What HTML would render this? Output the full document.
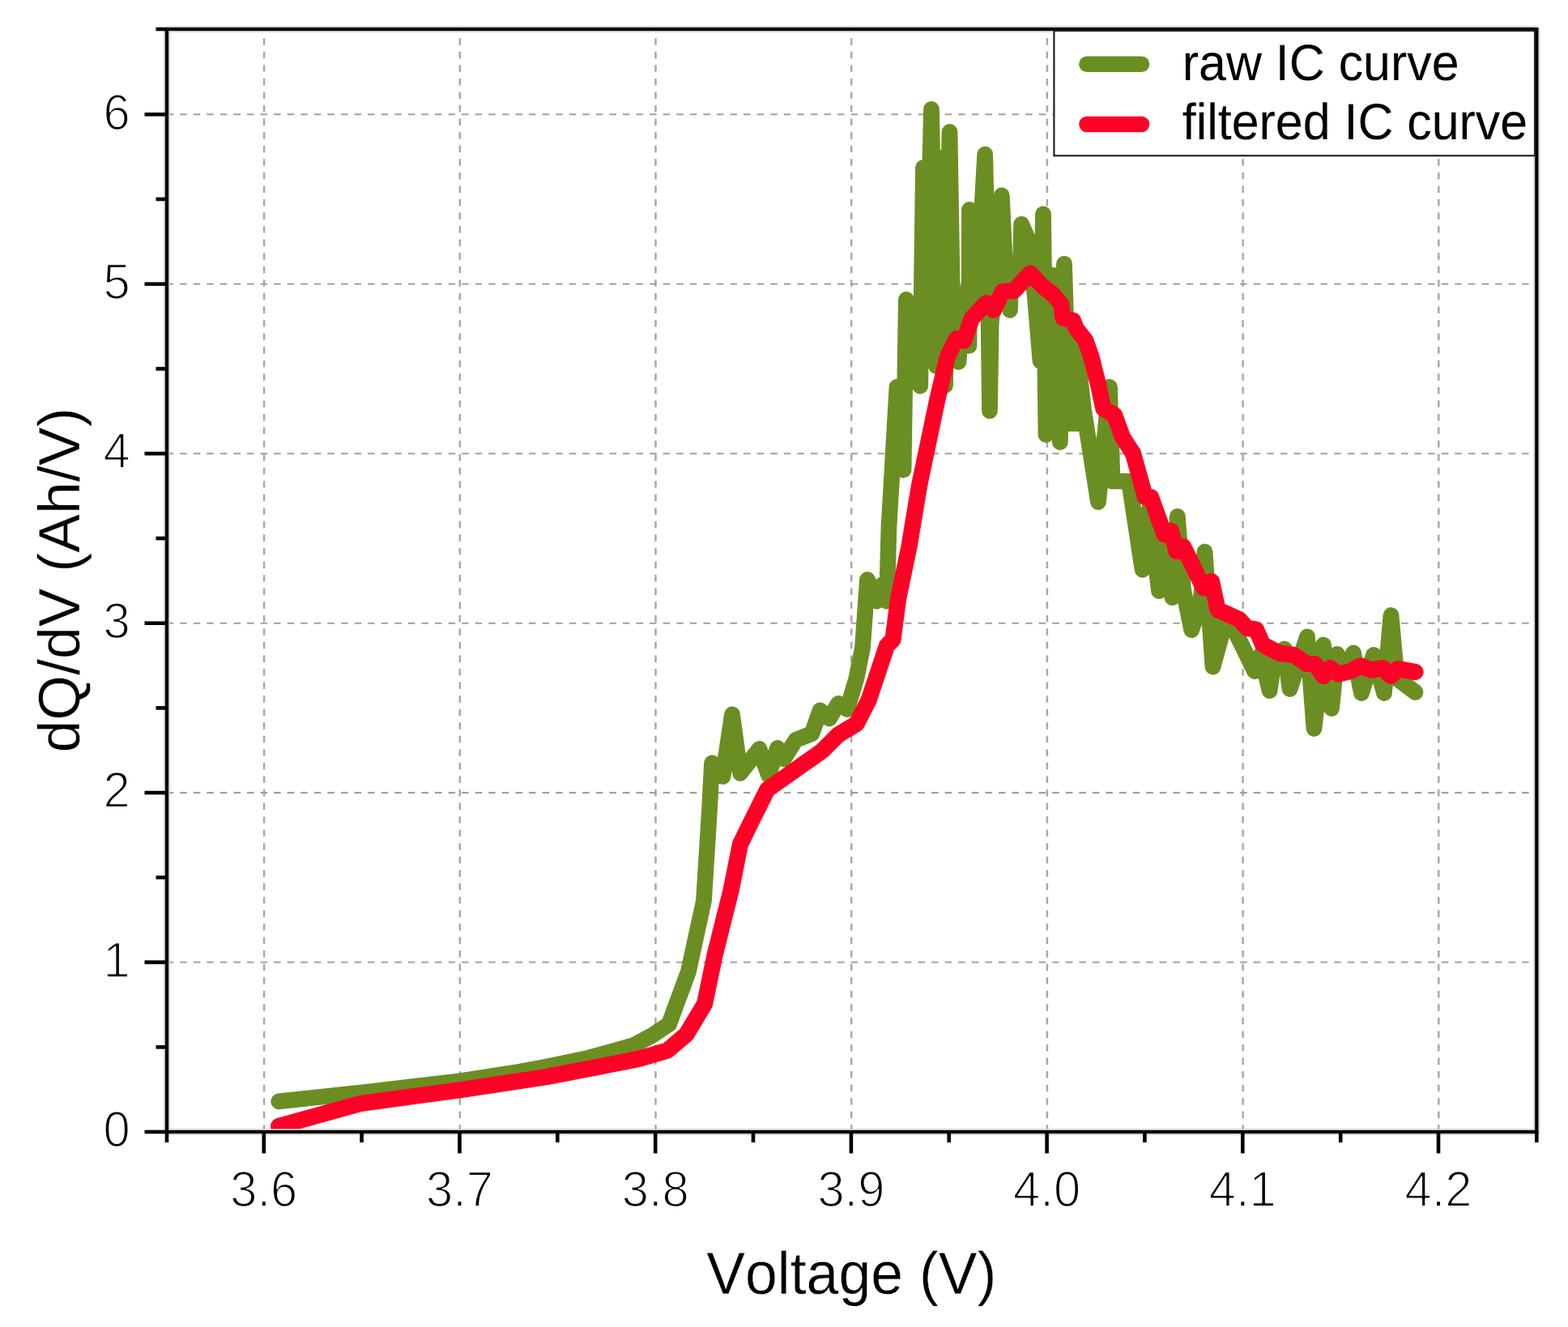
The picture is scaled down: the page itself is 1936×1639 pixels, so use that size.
<!DOCTYPE html>
<html lang="en">
<head>
<meta charset="utf-8">
<title>IC curve</title>
<style>
html,body{margin:0;padding:0;background:#fff;}
body{width:1936px;height:1639px;overflow:hidden;position:relative;}
svg{position:absolute;left:0;top:0;display:block;}
text{font-family:"Liberation Sans",Arial,Helvetica,sans-serif;fill:#000;font-kerning:none;text-rendering:geometricPrecision;}
.tick{font-size:59.7px;stroke:#fff;stroke-width:1.7px;stroke-linejoin:round;paint-order:fill stroke;}
.title{font-size:71.6px;stroke:#fff;stroke-width:0.4px;stroke-linejoin:round;paint-order:fill stroke;}
.leg{font-size:60.9px;}
.grid line{stroke:#a0a0a0;stroke-width:2.1;stroke-dasharray:8.5 8.07;}
.grid line.v{stroke:#a8a8a8;stroke-width:2.5;}
.ax line{stroke:#000;stroke-width:4.6;}
.ax line.f{stroke-width:4.1;}
.axu line{stroke:#cacaca;stroke-width:7.6;}
</style>
</head>
<body>
<svg width="1936" height="1639" viewBox="0 0 1936 1639">
<rect x="0" y="0" width="1936" height="1639" fill="#ffffff"/>

<g class="grid">
<line class="v" x1="326.1" y1="36.0" x2="326.1" y2="1398.0" stroke-dashoffset="-11.2"/>
<line class="v" x1="567.8" y1="36.0" x2="567.8" y2="1398.0" stroke-dashoffset="-11.2"/>
<line class="v" x1="809.5" y1="36.0" x2="809.5" y2="1398.0" stroke-dashoffset="-11.2"/>
<line class="v" x1="1051.2" y1="36.0" x2="1051.2" y2="1398.0" stroke-dashoffset="-11.2"/>
<line class="v" x1="1292.9" y1="36.0" x2="1292.9" y2="1398.0" stroke-dashoffset="-11.2"/>
<line class="v" x1="1534.6" y1="36.0" x2="1534.6" y2="1398.0" stroke-dashoffset="-11.2"/>
<line class="v" x1="1776.3" y1="36.0" x2="1776.3" y2="1398.0" stroke-dashoffset="-11.2"/>
<line x1="206.0" y1="1188.5" x2="1897.3" y2="1188.5" stroke-dashoffset="0.4"/>
<line x1="206.0" y1="979.1" x2="1897.3" y2="979.1" stroke-dashoffset="0.4"/>
<line x1="206.0" y1="769.7" x2="1897.3" y2="769.7" stroke-dashoffset="0.4"/>
<line x1="206.0" y1="560.2" x2="1897.3" y2="560.2" stroke-dashoffset="0.4"/>
<line x1="206.0" y1="350.8" x2="1897.3" y2="350.8" stroke-dashoffset="0.4"/>
<line x1="206.0" y1="141.3" x2="1897.3" y2="141.3" stroke-dashoffset="0.4"/>
</g>
<clipPath id="plotclip"><rect x="206.0" y="36.0" width="1691.3" height="1362.0"/></clipPath>
<g clip-path="url(#plotclip)">
<polyline points="344.2,1360.4 450.0,1349.0 567.5,1335.3 640.0,1324.0 675.0,1317.5 722.0,1307.8 745.0,1301.5 782.5,1291.0 805.0,1279.0 826.0,1265.0 850.0,1200.0 869.0,1112.5 876.0,1000.0 879.0,942.5 892.5,959.0 904.0,882.5 914.0,955.0 937.5,925.0 949.0,957.5 960.0,924.0 967.5,937.5 982.5,914.0 1002.5,906.0 1012.5,877.5 1024.0,887.5 1035.0,869.0 1046.0,876.0 1057.5,837.5 1065.0,800.0 1071.0,716.0 1082.5,742.5 1089.0,722.5 1095.0,742.5 1097.5,650.0 1100.5,600.0 1107.5,478.0 1115.5,580.5 1118.9,370.0 1136.2,476.8 1140.0,207.0 1146.0,300.0 1150.0,135.0 1156.0,452.0 1161.0,195.0 1167.0,476.0 1172.5,163.0 1177.0,440.0 1180.0,362.0 1183.5,447.0 1190.0,362.0 1196.5,427.0 1197.0,259.0 1203.0,380.0 1210.0,300.0 1216.2,190.7 1220.7,400.0 1222.0,507.4 1223.6,400.0 1230.0,330.0 1236.8,241.4 1241.0,330.0 1247.0,383.0 1248.5,340.0 1259.5,345.0 1261.2,277.0 1270.0,297.0 1278.0,368.0 1284.5,446.0 1288.0,264.5 1291.5,536.8 1300.0,340.0 1308.8,546.0 1314.0,325.8 1320.0,523.0 1334.0,523.0 1336.0,500.0 1328.0,420.0 1338.0,506.0 1356.0,620.0 1370.0,478.0 1373.5,594.4 1394.0,594.4 1410.6,703.6 1419.0,628.0 1431.0,730.0 1441.0,672.0 1447.5,738.0 1453.8,637.8 1461.0,728.0 1471.2,778.0 1482.5,745.0 1487.5,681.5 1497.5,823.5 1515.0,760.0 1530.0,790.0 1549.0,829.0 1557.0,808.0 1567.5,853.0 1573.5,812.0 1586.0,801.5 1592.5,851.0 1614.0,786.5 1622.5,900.0 1634.0,796.5 1644.0,875.0 1651.0,808.0 1660.0,830.0 1671.0,806.5 1681.0,856.0 1696.0,809.0 1709.0,856.0 1717.5,760.0 1722.8,819.0 1725.0,838.0 1747.5,855.0" fill="none" stroke="#6B8E23" stroke-width="19.8" stroke-linecap="round" stroke-linejoin="round"/>
<polyline points="344.1,1391.1 445.0,1363.0 480.0,1358.2 570.0,1345.9 675.0,1330.0 740.0,1317.5 790.0,1307.5 824.0,1297.5 847.5,1277.5 870.0,1240.0 882.5,1180.0 902.5,1100.0 914.0,1042.5 930.0,1010.0 947.5,975.0 972.5,957.5 1015.0,927.5 1035.0,907.5 1057.5,894.0 1072.5,865.0 1095.0,797.5 1102.5,790.0 1109.0,740.0 1122.5,675.0 1135.0,600.0 1157.0,495.0 1170.0,440.0 1181.0,418.0 1190.0,421.0 1200.0,393.0 1218.0,374.0 1227.0,383.0 1238.0,360.0 1252.0,359.0 1272.0,337.5 1288.8,355.0 1298.8,362.5 1310.0,375.0 1312.5,392.5 1325.0,396.0 1328.8,406.0 1340.0,420.0 1347.5,441.0 1356.0,475.0 1362.5,505.0 1376.0,512.5 1386.0,540.0 1399.0,560.0 1414.0,614.0 1421.0,614.0 1437.5,660.0 1446.0,656.0 1452.5,681.0 1461.0,675.0 1486.0,726.0 1496.0,718.0 1503.5,753.0 1530.0,765.0 1540.0,776.0 1551.0,777.5 1559.0,796.0 1580.0,807.0 1597.5,809.0 1613.5,820.0 1623.5,820.0 1634.0,835.0 1642.5,825.0 1652.5,832.5 1667.5,829.0 1680.0,822.5 1692.5,827.5 1707.5,825.0 1717.5,835.0 1726.0,826.0 1747.5,830.0" fill="none" stroke="#FF0026" stroke-width="20.2" stroke-linecap="round" stroke-linejoin="round"/>
</g>
<g class="axu">
<line x1="206.0" y1="34.0" x2="206.0" y2="1400.0"/>
<line x1="1897.3" y1="34.0" x2="1897.3" y2="1400.0"/>
<line x1="206.0" y1="36.0" x2="1897.3" y2="36.0"/>
<line x1="206.0" y1="1398.0" x2="1897.3" y2="1398.0"/>
</g>
<g class="ax">
<line class="f" x1="206.0" y1="34.0" x2="206.0" y2="1400.0"/>
<line class="f" x1="1897.3" y1="34.0" x2="1897.3" y2="1400.0"/>
<line class="f" x1="206.0" y1="36.0" x2="1897.3" y2="36.0"/>
<line class="f" x1="206.0" y1="1398.0" x2="1897.3" y2="1398.0"/>
<line x1="206.0" y1="1398.0" x2="206.0" y2="1411.0"/>
<line x1="325.8" y1="1398.0" x2="325.8" y2="1424.5"/>
<line x1="446.6" y1="1398.0" x2="446.6" y2="1411.0"/>
<line x1="567.5" y1="1398.0" x2="567.5" y2="1424.5"/>
<line x1="688.3" y1="1398.0" x2="688.3" y2="1411.0"/>
<line x1="809.2" y1="1398.0" x2="809.2" y2="1424.5"/>
<line x1="930.0" y1="1398.0" x2="930.0" y2="1411.0"/>
<line x1="1050.9" y1="1398.0" x2="1050.9" y2="1424.5"/>
<line x1="1171.7" y1="1398.0" x2="1171.7" y2="1411.0"/>
<line x1="1292.6" y1="1398.0" x2="1292.6" y2="1424.5"/>
<line x1="1413.4" y1="1398.0" x2="1413.4" y2="1411.0"/>
<line x1="1534.3" y1="1398.0" x2="1534.3" y2="1424.5"/>
<line x1="1655.2" y1="1398.0" x2="1655.2" y2="1411.0"/>
<line x1="1776.0" y1="1398.0" x2="1776.0" y2="1424.5"/>
<line x1="1897.3" y1="1398.0" x2="1897.3" y2="1411.0"/>
<line x1="206.0" y1="1398.0" x2="178.5" y2="1398.0"/>
<line x1="206.0" y1="1293.3" x2="192.5" y2="1293.3"/>
<line x1="206.0" y1="1188.5" x2="178.5" y2="1188.5"/>
<line x1="206.0" y1="1083.8" x2="192.5" y2="1083.8"/>
<line x1="206.0" y1="979.1" x2="178.5" y2="979.1"/>
<line x1="206.0" y1="874.4" x2="192.5" y2="874.4"/>
<line x1="206.0" y1="769.7" x2="178.5" y2="769.7"/>
<line x1="206.0" y1="664.9" x2="192.5" y2="664.9"/>
<line x1="206.0" y1="560.2" x2="178.5" y2="560.2"/>
<line x1="206.0" y1="455.5" x2="192.5" y2="455.5"/>
<line x1="206.0" y1="350.8" x2="178.5" y2="350.8"/>
<line x1="206.0" y1="246.0" x2="192.5" y2="246.0"/>
<line x1="206.0" y1="141.3" x2="178.5" y2="141.3"/>
<line x1="206.0" y1="36.0" x2="192.5" y2="36.0"/>
</g>
<text class="tick" transform="translate(325.8,1489.7) scale(1,1.04)" text-anchor="middle">3.6</text>
<text class="tick" transform="translate(567.5,1489.7) scale(1,1.04)" text-anchor="middle">3.7</text>
<text class="tick" transform="translate(809.2,1489.7) scale(1,1.04)" text-anchor="middle">3.8</text>
<text class="tick" transform="translate(1050.9,1489.7) scale(1,1.04)" text-anchor="middle">3.9</text>
<text class="tick" transform="translate(1292.6,1489.7) scale(1,1.04)" text-anchor="middle">4.0</text>
<text class="tick" transform="translate(1534.3,1489.7) scale(1,1.04)" text-anchor="middle">4.1</text>
<text class="tick" transform="translate(1776.0,1489.7) scale(1,1.04)" text-anchor="middle">4.2</text>
<text class="tick" transform="translate(160.6,1416.2) scale(1,1.04)" text-anchor="end">0</text>
<text class="tick" transform="translate(160.6,1206.8) scale(1,1.04)" text-anchor="end">1</text>
<text class="tick" transform="translate(160.6,997.3) scale(1,1.04)" text-anchor="end">2</text>
<text class="tick" transform="translate(160.6,787.9) scale(1,1.04)" text-anchor="end">3</text>
<text class="tick" transform="translate(160.6,578.4) scale(1,1.04)" text-anchor="end">4</text>
<text class="tick" transform="translate(160.6,368.9) scale(1,1.04)" text-anchor="end">5</text>
<text class="tick" transform="translate(160.6,159.5) scale(1,1.04)" text-anchor="end">6</text>
<text class="title" transform="translate(1051.3,1597.8) scale(1,1.03)" text-anchor="middle">Voltage (V)</text>
<text class="title" transform="translate(97.9,716.6) rotate(-90) scale(1.0,1.01)" text-anchor="middle">dQ/dV (Ah/V)</text>
<rect x="1301.4" y="38" width="593.6" height="154.3" fill="#fff" stroke="#222" stroke-width="2.2"/>
<line x1="1342" y1="79.2" x2="1409.5" y2="79.2" stroke="#6B8E23" stroke-width="19.6" stroke-linecap="round"/>
<line x1="1342" y1="153.5" x2="1409.5" y2="153.5" stroke="#FF0026" stroke-width="19.6" stroke-linecap="round"/>
<text class="leg" transform="translate(1459.8,98.9) scale(1,1.035)">raw IC curve</text>
<text class="leg" transform="translate(1459.8,172.3) scale(1,1.035)">filtered IC curve</text>
</svg>
</body>
</html>
